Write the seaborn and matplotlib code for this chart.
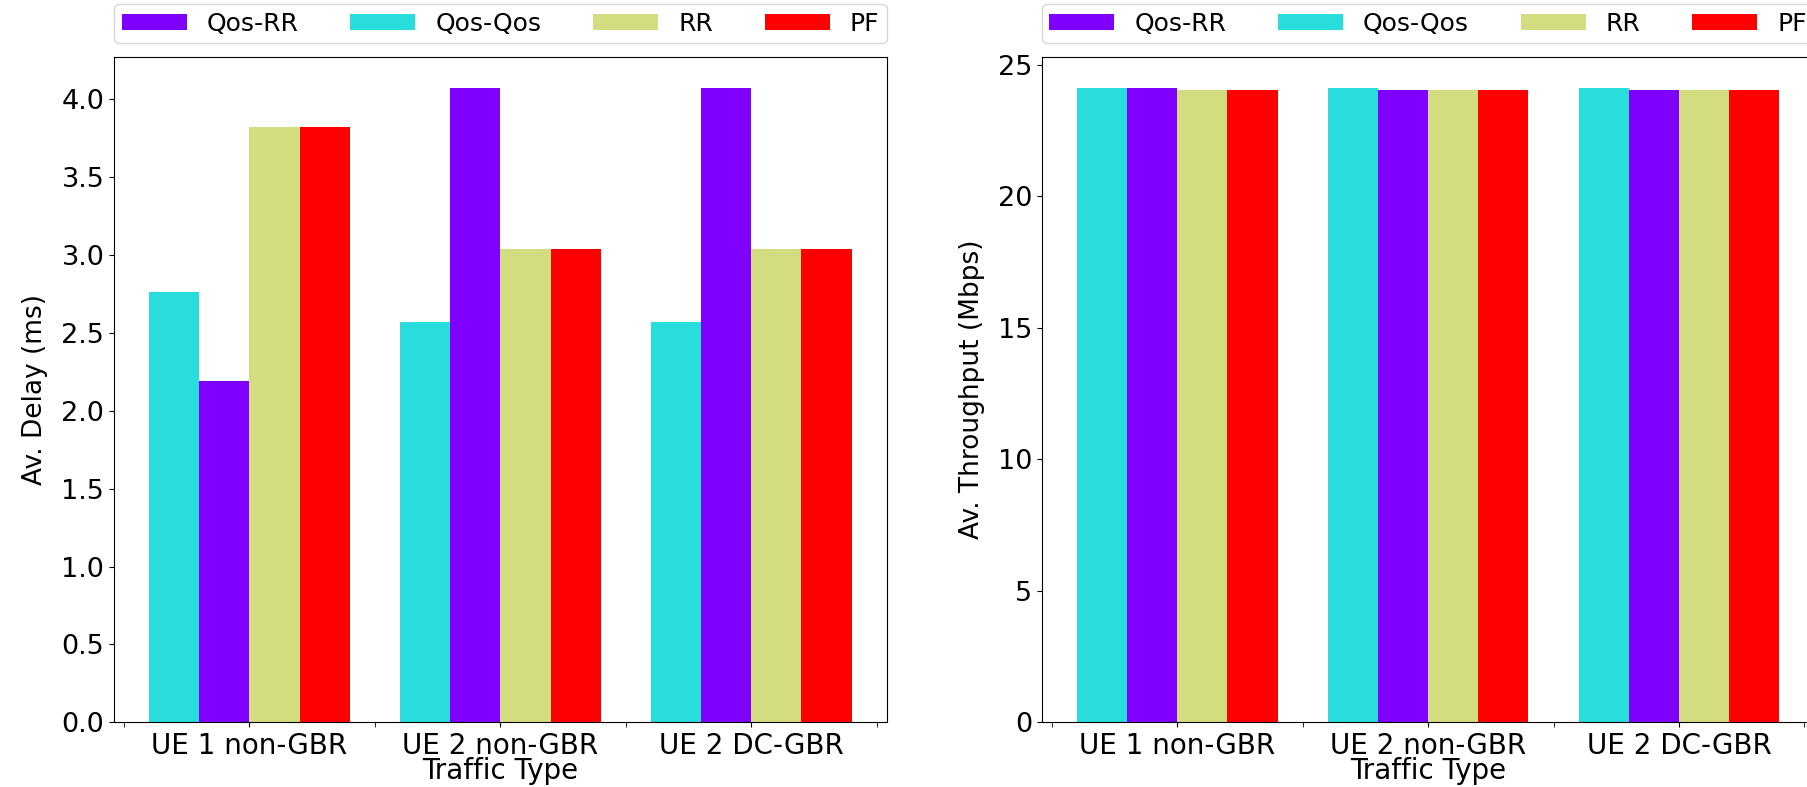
import matplotlib
matplotlib.use("Agg")
import matplotlib.pyplot as plt
from matplotlib.patches import Patch
import pandas as pd
import seaborn as sns

# Data
traffic = ["UE 1 non-GBR", "UE 2 non-GBR", "UE 2 DC-GBR"]
schedulers = ["Qos-Qos", "Qos-RR", "RR", "PF"]      # bar order inside a group
legend_order = ["Qos-RR", "Qos-Qos", "RR", "PF"]    # order shown in the legend
colors = {"Qos-RR": "#8000ff", "Qos-Qos": "#2adddd", "RR": "#d4dc80", "PF": "#ff0000"}

delay_qos_qos = [2.76, 2.57, 2.57]
delay_qos_rr = [2.19, 4.07, 4.07]
delay_rr = [3.82, 3.04, 3.04]
delay_pf = [3.82, 3.04, 3.04]

tput_qos_qos = [24.10, 24.10, 24.10]
tput_qos_rr = [24.10, 24.03, 24.03]
tput_rr = [24.05, 24.05, 24.05]
tput_pf = [24.05, 24.05, 24.05]

# Long-form tables
def to_frame(series, name):
	rows = []
	for sched, vals in zip(schedulers, series):
		for t, v in zip(traffic, vals):
			rows.append({"traffic": t, "scheduler": sched, name: v})
	return pd.DataFrame(rows)

delay_df = to_frame([delay_qos_qos, delay_qos_rr, delay_rr, delay_pf], "delay")
tput_df = to_frame([tput_qos_qos, tput_qos_rr, tput_rr, tput_pf], "tput")

# Figure
fig = plt.figure(figsize=(18.07, 7.87), dpi=100)
ax1 = fig.add_axes([0.0631, 0.0822, 0.4276, 0.8458])
ax2 = fig.add_axes([0.5765, 0.0822, 0.4276, 0.8458])

panels = [
	(ax1, delay_df, "delay", "Av. Delay (ms)", -0.085),
	(ax2, tput_df, "tput", "Av. Throughput (Mbps)", -0.073),
]

handles = [Patch(facecolor=colors[s], edgecolor="none") for s in legend_order]

for ax, df, col, ylab, ylab_x in panels:
	sns.barplot(data=df, x="traffic", y=col, hue="scheduler",
		order=traffic, hue_order=schedulers, palette=colors,
		saturation=1, width=0.8, errorbar=None, legend=False, ax=ax)
	ax.set_xlim(-0.54, 2.54)
	ax.set_xticks([-0.5, 0.5, 1.5, 2.5], minor=True)
	ax.tick_params(axis="x", which="both", length=3.5, labelsize=20)
	ax.tick_params(axis="y", length=3.5, labelsize=19.5)
	ax.set_xlabel("Traffic Type", fontsize=20)
	ax.set_ylabel(ylab, fontsize=19)
	ax.xaxis.set_label_coords(0.5, -0.052)
	ax.yaxis.set_label_coords(ylab_x, 0.5)
	ax.legend(handles, legend_order, loc="lower left",
		bbox_to_anchor=(0, 1.02, 1, 0.05), mode="expand", ncol=4,
		borderaxespad=0, fontsize=18, handlelength=2.6, handleheight=0.6,
		borderpad=0.3)

fig.savefig("out.png", dpi=100)
